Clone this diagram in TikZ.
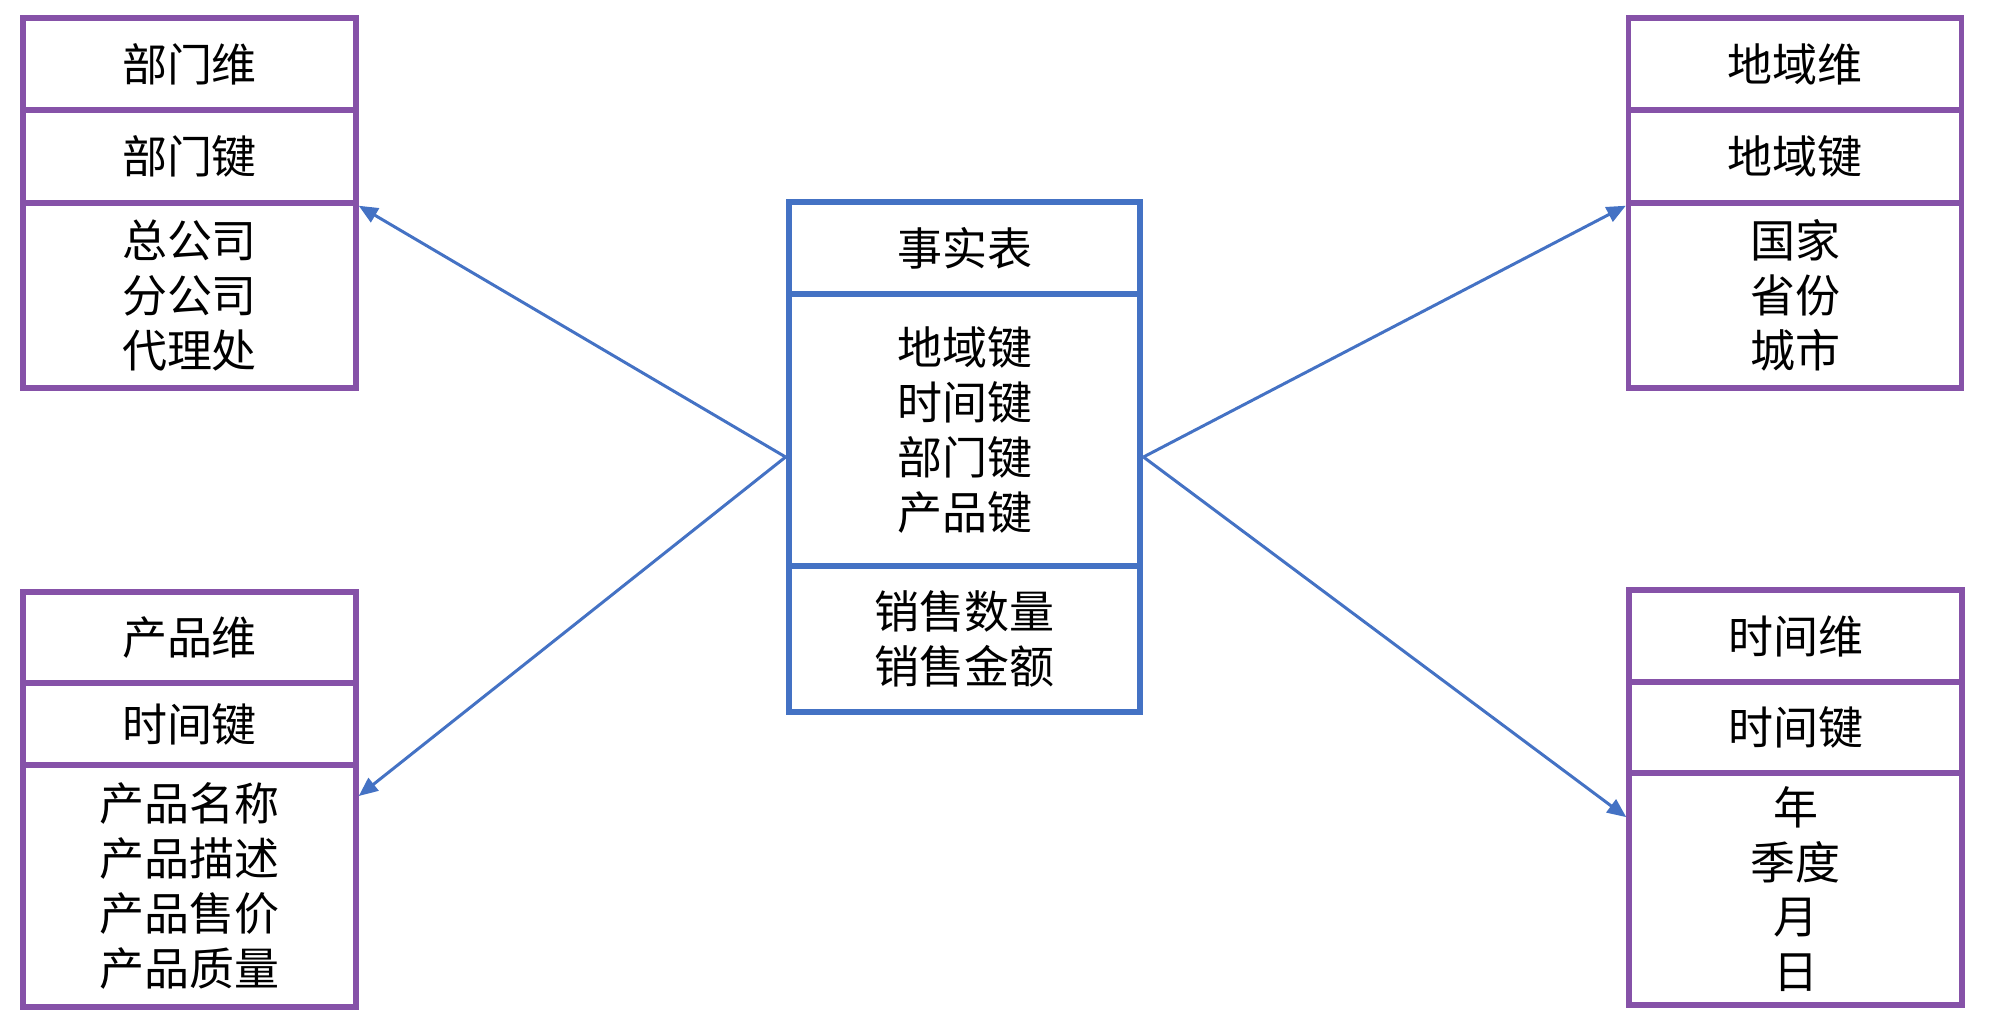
\documentclass[tikz,border=0pt]{standalone}
\usepackage{fontspec}
\newfontfamily\cjk{Noto Sans CJK SC}
\usepackage{xcolor}
\usepackage{tikz}
\usetikzlibrary{arrows.meta,fit}

\definecolor{dimpurple}{RGB}{134,82,168}
\definecolor{factblue}{RGB}{68,114,196}

\tikzset{
  dimcell/.style={draw=dimpurple, line width=1.55pt, minimum width=3.33cm, inner sep=0pt, align=center},
  factcell/.style={draw=factblue, line width=1.55pt, minimum width=3.51cm, inner sep=0pt, align=center},
  link/.style={draw=factblue, line width=0.85pt, -{Triangle[length=0.19cm,width=0.16cm]}}
}

\begin{document}
\begin{tikzpicture}[font=\cjk\fontsize{12.8}{15.6}\selectfont]
\useasboundingbox (0,0) rectangle (19.9,-10.22);
% department dimension
\node[dimcell, minimum height=0.92cm] (dept1) at (1.895,-0.64) {部门维};
\node[dimcell, minimum height=0.93cm] (dept2) at (1.895,-1.565) {部门键};
\node[dimcell, minimum height=1.85cm] (dept3) at (1.895,-2.955) {总公司\\分公司\\代理处};
% area dimension
\node[dimcell, minimum height=0.92cm] (area1) at (17.95,-0.64) {地域维};
\node[dimcell, minimum height=0.93cm] (area2) at (17.95,-1.565) {地域键};
\node[dimcell, minimum height=1.85cm] (area3) at (17.95,-2.955) {国家\\省份\\城市};
% product dimension
\node[dimcell, minimum height=0.91cm] (prod1) at (1.895,-6.375) {产品维};
\node[dimcell, minimum height=0.82cm] (prod2) at (1.895,-7.24) {时间键};
\node[dimcell, minimum height=2.42cm] (prod3) at (1.895,-8.86) {产品名称\\产品描述\\产品售价\\产品质量};
% time dimension
\node[dimcell, minimum height=0.92cm] (time1) at (17.955,-6.36) {\raisebox{-1.2mm}{时间维}};
\node[dimcell, minimum height=0.91cm] (time2) at (17.955,-7.275) {\raisebox{-1.2mm}{时间键}};
\node[dimcell, minimum height=2.32cm] (time3) at (17.955,-8.89) {年\\季度\\月\\日};
% fact table
\node[factcell, minimum height=0.92cm] (fact1) at (9.645,-2.48) {事实表};
\node[factcell, minimum height=2.72cm] (fact2) at (9.645,-4.30) {地域键\\时间键\\部门键\\产品键};
\node[factcell, minimum height=1.46cm] (fact3) at (9.645,-6.39) {销售数量\\销售金额};
\node[fit=(fact1)(fact3), inner sep=0pt] (fact) {};
\draw [link] (fact.west) -- (dept2.south east);
\draw [link] (fact.west) -- (prod3.28);
\draw [link] (fact.east) -- (area2.south west);
\draw [link] (fact.east) -- (time3.157);
\end{tikzpicture}
\end{document}
